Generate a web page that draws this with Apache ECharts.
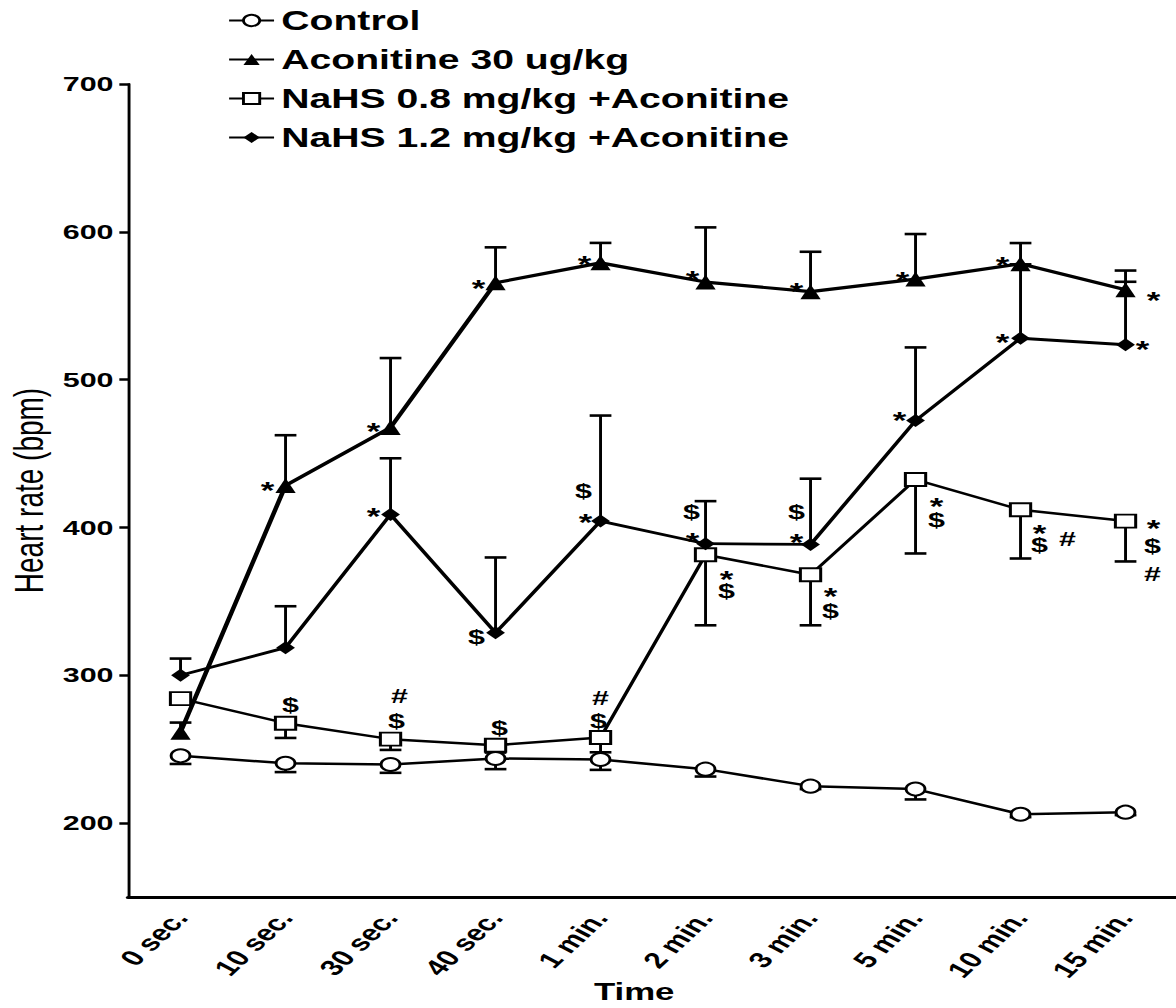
<!DOCTYPE html>
<html>
<head>
<meta charset="utf-8">
<script src="https://cdn.jsdelivr.net/npm/echarts@6/dist/echarts.min.js"></script>
<style>
  html, body { margin: 0; padding: 0; background: #fff; }
  #wrap { width: 1176px; height: 1008px; overflow: hidden; position: relative; }
  /* the figure is laid out on a narrower canvas and widened horizontally */
  #chart { width: 811px; height: 1008px; transform-origin: 0 0; }
</style>
</head>
<body>
<div id="wrap"><div id="chart"></div></div>
<script>
// ---- data ----
const timeLabels = ['0 sec.', '10 sec.', '30 sec.', '40 sec.', '1 min.', '2 min.', '3 min.', '5 min.', '10 min.', '15 min.'];
const yTicks = [200, 300, 400, 500, 600, 700];

const controlMean = [245.5, 240.5, 239.6, 243.7, 243, 236.5, 225, 223, 206, 207.4];
const controlErr  = [5.5, 6, 5.6, 7.2, 7, 5, 2, 7, 2, 2];

const aconMean = [261.5, 428.4, 467.6, 565.5, 579, 566, 559.5, 568, 578.4, 560.8];
const aconErr  = [6.5, 34, 47, 24, 13.5, 37, 27, 30.5, 14, 13];

const nahs08Mean = [284.2, 267.6, 256.8, 252.7, 257.9, 381.5, 368, 432.4, 412, 404.3];
const nahs08Err  = [4, 10, 7.3, 5, 10, 47.7, 34.2, 50, 33, 27.3];

const nahs12Mean = [300, 318.7, 408.8, 328.7, 404.3, 389, 388.5, 472.3, 528, 523.6];
const nahs12Err  = [11.3, 28, 38, 51, 71.4, 28.8, 44.5, 49.5, 50, 42.6];

// significance marks: [point index, symbol, dx, dy] (offset of the mark from its point)
const aconSig = [
  [1, '*', -18, -2], [2, '*', -17, -3], [3, '*', -17, -1], [4, '*', -16, -5], [5, '*', -13, -10],
  [6, '*', -14, -7], [7, '*', -13, -6], [8, '*', -18, -5], [9, '*', 28, 4]
];
const nahs12Sig = [
  [2, '*', -17, -5], [3, '$', -19, 4],
  [4, '$', -17, -30], [4, '*', -15, -6],
  [5, '$', -14, -32], [5, '*', -13, -9],
  [6, '$', -14, -33], [6, '*', -14, -9],
  [7, '*', -16, -7], [8, '*', -18, -3], [9, '*', 17, -2]
];
const nahs08Sig = [
  [1, '$', 5, -18],
  [2, '#', 9, -43], [2, '$', 6, -18],
  [3, '$', 4, -17],
  [4, '#', 0, -40], [4, '$', -2, -17],
  [5, '*', 21, 18], [5, '$', 21, 36],
  [6, '*', 20, 15], [6, '$', 20, 36],
  [7, '*', 21, 20], [7, '$', 21, 40],
  [8, '*', 19, 17], [8, '$', 19, 35], [8, '#', 47, 29],
  [9, '*', 28, 0], [9, '$', 27, 25], [9, '#', 27, 53]
];

// ---- layout ----
const OUT_W = 1176, IN_W = 811;
const SX = OUT_W / IN_W;
const chartDom = document.getElementById('chart');
chartDom.style.transform = 'scaleX(' + SX + ')';

const FONT = "'Liberation Sans', Arial, Helvetica, sans-serif";
const INK = '#000';

// vertical error bar with a cap; dir = +1 draws upward, -1 downward
function errorSeries(means, errs, dir, z) {
  return {
    type: 'custom',
    silent: true,
    z: z,
    clip: false,
    data: means.map((m, i) => [i, m, errs[i]]),
    encode: { x: 0, y: 1 },
    renderItem: function (params, api) {
      const i = api.value(0);
      const m = api.value(1);
      const e = api.value(2);
      const p0 = api.coord([i, m]);
      const p1 = api.coord([i, m + dir * e]);
      const half = 7.5;
      return {
        type: 'group',
        children: [
          { type: 'line', shape: { x1: p0[0], y1: p0[1], x2: p1[0], y2: p1[1] },
            style: { stroke: INK, lineWidth: 2 } },
          { type: 'line', shape: { x1: p1[0] - half, y1: p1[1], x2: p1[0] + half, y2: p1[1] },
            style: { stroke: INK, lineWidth: 2.6 } }
        ]
      };
    }
  };
}

function sigSeries(means, marks) {
  return {
    type: 'scatter',
    silent: true,
    z: 20,
    symbolSize: 0,
    itemStyle: { opacity: 1 },
    data: marks.map(function (mk) {
      const star = mk[1] === '*';
      return {
        value: [mk[0], means[mk[0]]],
        label: {
          show: true,
          position: 'inside',
          formatter: mk[1],
          fontSize: star ? 24 : 21,
          offset: [mk[2] / SX, mk[3] + (star ? 7 : 0)]
        }
      };
    }),
    label: {
      color: INK,
      opacity: 1,
      fontFamily: FONT,
      fontWeight: 'bold',
      fontSize: 21,
      align: 'center',
      verticalAlign: 'middle'
    }
  };
}

function lineSeries(name, means, symbol, size, fill, width) {
  return {
    name: name,
    type: 'line',
    z: 10,
    data: means,
    symbol: symbol,
    symbolSize: size,
    showAllSymbol: true,
    lineStyle: { color: INK, width: width },
    itemStyle: { color: fill, borderColor: INK, borderWidth: fill === '#fff' ? 2 : 0 },
    emphasis: { disabled: true }
  };
}

const chart = echarts.init(chartDom, null, { renderer: 'svg' });

chart.setOption({
  animation: false,
  backgroundColor: '#fff',
  textStyle: { fontFamily: FONT },
  grid: { left: 88.3, right: -1.4, top: 84, bottom: 111, containLabel: false, outerBoundsMode: 'none' },
  legend: {
    orient: 'vertical',
    left: 157,
    top: 7,
    padding: 0,
    itemGap: 12,
    itemWidth: 31,
    itemHeight: 14,
    selectedMode: false,
    data: ['Control', 'Aconitine 30 ug/kg', 'NaHS 0.8 mg/kg +Aconitine', 'NaHS 1.2 mg/kg +Aconitine'],
    textStyle: { color: INK, fontFamily: FONT, fontWeight: 'bold', fontSize: 27 }
  },
  xAxis: {
    type: 'category',
    data: timeLabels,
    boundaryGap: true,
    name: 'Time',
    nameLocation: 'middle',
    nameGap: 83,
    nameMoveOverlap: false,
    nameTextStyle: { color: INK, fontFamily: FONT, fontWeight: 'bold', fontSize: 24, padding: [0, 26, 0, 0] },
    axisLine: { lineStyle: { color: INK, width: 3 } },
    axisTick: { alignWithLabel: true, length: 8, lineStyle: { color: INK, width: 2 } },
    axisLabel: { color: INK, fontFamily: FONT, fontWeight: 'bold', fontSize: 22, rotate: 53, margin: 17, interval: 0 },
    splitLine: { show: false }
  },
  yAxis: {
    type: 'value',
    min: 150,
    max: 700,
    name: 'Heart rate (bpm)',
    nameLocation: 'middle',
    nameGap: 55,
    nameMoveOverlap: false,
    nameTextStyle: { color: INK, fontFamily: FONT, fontSize: 28 },
    axisLine: { show: true, lineStyle: { color: INK, width: 2 } },
    axisTick: { show: true, length: 6, customValues: yTicks, lineStyle: { color: INK, width: 2.5 } },
    axisLabel: { color: INK, fontFamily: FONT, fontWeight: 'bold', fontSize: 21, margin: 10, customValues: yTicks },
    splitLine: { show: false }
  },
  series: [
    errorSeries(controlMean, controlErr, -1, 3),
    errorSeries(aconMean, aconErr, 1, 3),
    errorSeries(nahs08Mean, nahs08Err, -1, 3),
    errorSeries(nahs12Mean, nahs12Err, 1, 3),
    lineSeries('Control', controlMean, 'circle', 13, '#fff', 2.5),
    lineSeries('Aconitine 30 ug/kg', aconMean, 'triangle', [14, 15], INK, 3.2),
    lineSeries('NaHS 0.8 mg/kg +Aconitine', nahs08Mean, 'rect', [14, 13], '#fff', 2.5),
    lineSeries('NaHS 1.2 mg/kg +Aconitine', nahs12Mean, 'diamond', [13, 13], INK, 2.8),
    sigSeries(aconMean, aconSig),
    sigSeries(nahs12Mean, nahs12Sig),
    sigSeries(nahs08Mean, nahs08Sig)
  ]
});
</script>
</body>
</html>
